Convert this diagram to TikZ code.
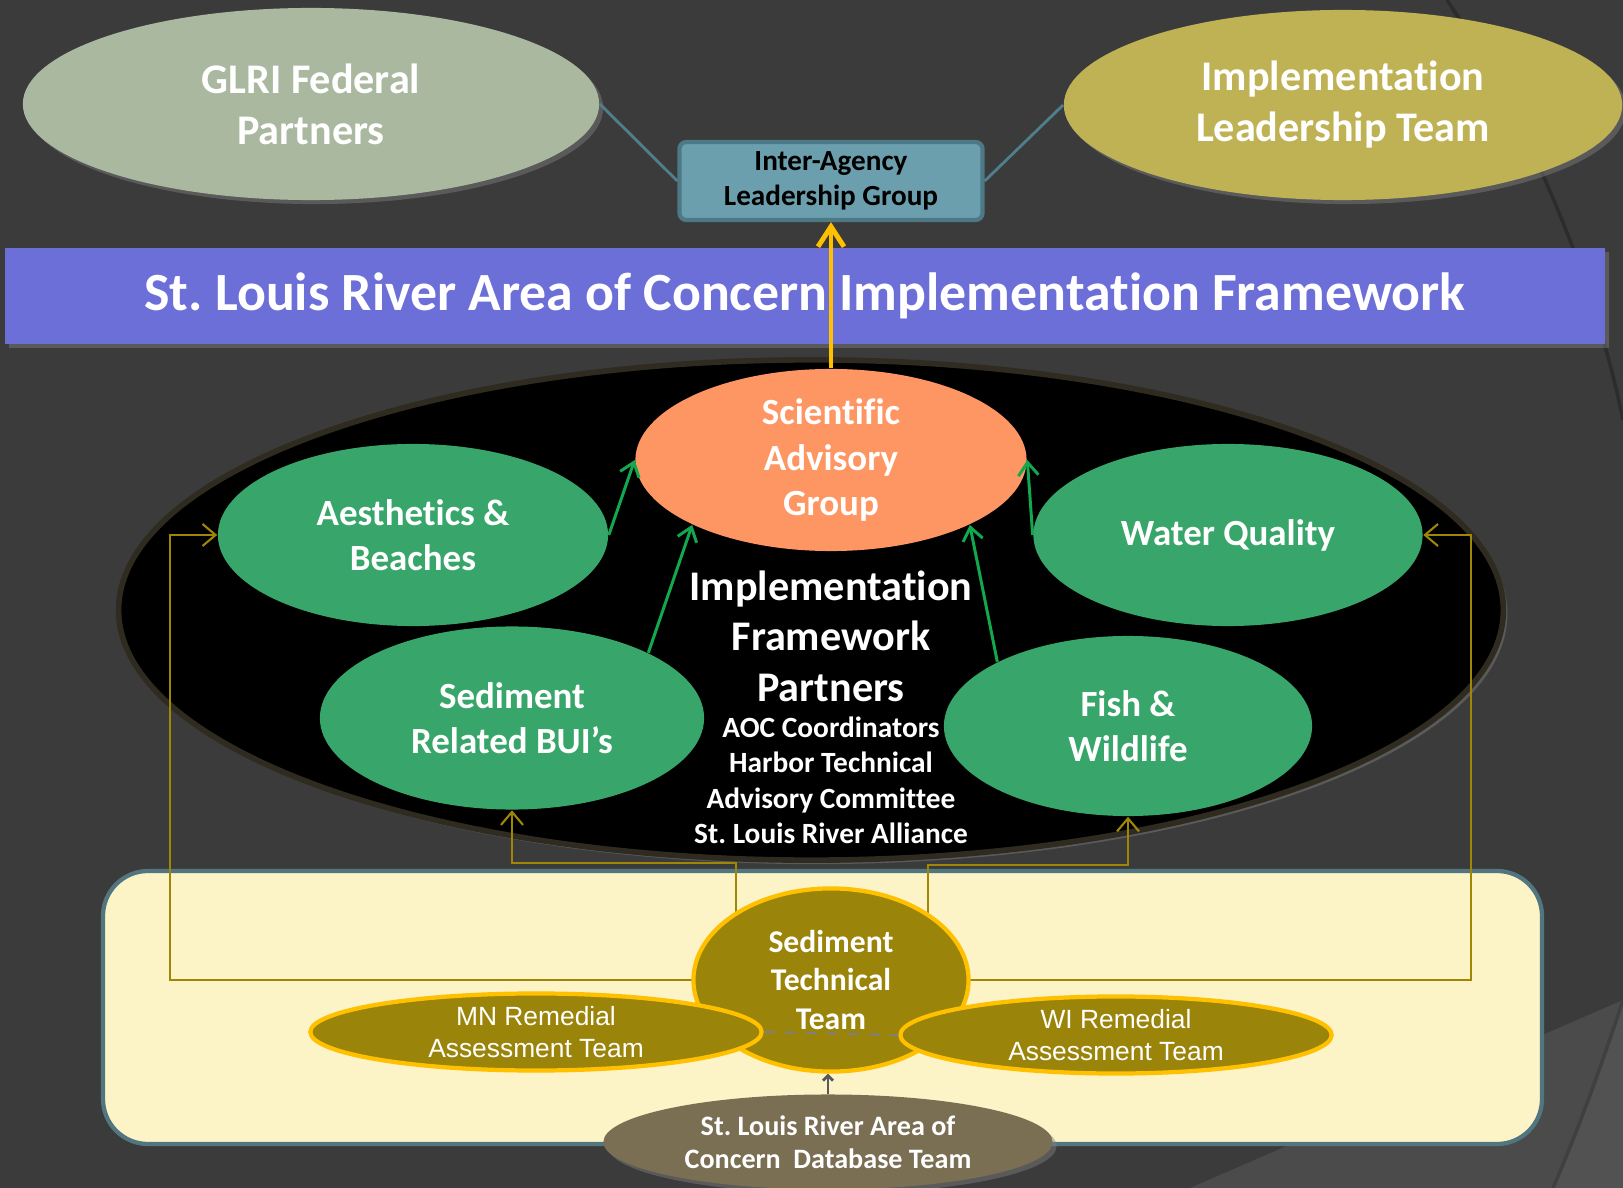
\documentclass[tikz,border=0pt]{standalone}
\usepackage{fontspec}
\setmainfont{Carlito}[RawFeature={-liga;-clig;-dlig;-calt}]
\newfontfamily\arialfont{Liberation Sans}
\usepackage{tikz}
\usetikzlibrary{positioning, arrows.meta, shapes.geometric, shadows}
\frenchspacing
\definecolor{slidebg}{HTML}{3B3B3B}
\definecolor{slidepale}{HTML}{4B4B4B}
\definecolor{slidepaler}{HTML}{525252}
\definecolor{glrisage}{HTML}{A9B89F}
\definecolor{iltolive}{HTML}{BFB255}
\definecolor{ilgteal}{HTML}{6B9FAE}
\definecolor{ilgborder}{HTML}{4D7886}
\definecolor{tealline}{HTML}{4F7E8D}
\definecolor{titleblue}{HTML}{6D6FD9}
\definecolor{sagorange}{HTML}{FE9663}
\definecolor{buigreen}{HTML}{38A66A}
\definecolor{arrowgreen}{HTML}{12A84E}
\definecolor{ovalrim}{HTML}{2F2B20}
\definecolor{panelcream}{HTML}{FCF3C7}
\definecolor{panelborder}{HTML}{51767F}
\definecolor{teamolive}{HTML}{9B840A}
\definecolor{teamgold}{HTML}{FFC000}
\definecolor{feedolive}{HTML}{9F8606}
\definecolor{dbbrown}{HTML}{7A6E53}

\begin{document}
\begin{tikzpicture}[x=0.01cm, y=-0.01cm,
    every node/.style={inner sep=0pt},
    softshadow/.style={drop shadow={shadow xshift=0.04cm, shadow yshift=-0.04cm, opacity=0.45}},
    topoval/.style={ellipse, text=white, align=center, softshadow,
      font=\bfseries\fontsize{12}{14.5}\selectfont},
    buioval/.style={ellipse, fill=buigreen, text=white, align=center,
      font=\bfseries\fontsize{10.5}{12.9}\selectfont},
    teamoval/.style={ellipse, fill=teamolive, draw=teamgold, line width=1.2pt, text=white,
      align=center},
    linkline/.style={tealline, line width=0.8pt},
    uparrow/.style={arrowgreen, line width=0.85pt, -{Straight Barb[length=0.13cm, width=0.2cm]}},
    feed/.style={feedolive, line width=0.6pt, -{Straight Barb[length=0.13cm, width=0.22cm]}}]

  \useasboundingbox (0,0) rectangle (1623,1188);
  \fill[slidebg] (0,0) rectangle (1623,1188);

  % theme arcs on the right
  \draw[black!25!slidebg, line width=1pt] (1447,0) .. controls (1520,110) and (1590,260) .. (1623,420);
  \fill[slidepale] (1190,1188) -- (1623,1000) -- (1623,1188) -- cycle;
  \fill[slidepaler] (1623,1000) .. controls (1600,1070) and (1578,1130) .. (1553,1188) -- (1623,1188) -- cycle;
  \draw[black!15!slidepale, line width=1pt] (1623,1000) .. controls (1600,1070) and (1578,1130) .. (1553,1188);

  % partners at the top
  \node[topoval, fill=glrisage, minimum width=5.76cm, minimum height=1.92cm] (glri) at (311,104)
    {GLRI Federal\\Partners};
  \node[topoval, fill=iltolive, minimum width=5.58cm, minimum height=1.90cm] (ilt) at (1343,105)
    {Implementation\\Leadership Team};
  \node[rectangle, rounded corners=0.07cm, fill=ilgteal, draw=ilgborder, line width=1.2pt,
        minimum width=3.03cm, minimum height=0.78cm, align=center,
        font=\bfseries\fontsize{8.3}{10}\selectfont] (ilg) at (831,181)
    {Inter-Agency\\Leadership Group};
  \draw[linkline] (glri.east) -- (ilg.west);
  \draw[linkline] (ilg.east) -- (ilt.west);

  \node[rectangle, fill=titleblue, minimum width=15.99cm, minimum height=0.95cm, text=white,
        softshadow, font=\bfseries\fontsize{15.3}{18}\selectfont] (title) at (805,296)
    {St. Louis River Area of Concern Implementation Framework};

  % framework oval
  \node[ellipse, fill=black, draw=ovalrim, line width=1.6pt, softshadow,
        minimum width=13.84cm, minimum height=5cm] (frame) at (811,610) {};

  \node[ellipse, fill=sagorange, text=white, align=center, minimum width=3.91cm, minimum height=1.82cm,
        font=\bfseries\fontsize{10.5}{12.9}\selectfont] (sag) at (831,460)
    {Scientific\\Advisory\\Group};
  \node[buioval, minimum width=3.90cm, minimum height=1.82cm] (aesth) at (413,535) {Aesthetics \&\\Beaches};
  \node[buioval, minimum width=3.89cm, minimum height=1.82cm] (water) at (1228,535) {Water Quality};
  \node[buioval, minimum width=3.84cm, minimum height=1.83cm] (sedbui) at (512,718) {Sediment\\Related BUI’s};
  \node[buioval, minimum width=3.68cm, minimum height=1.80cm] (fish) at (1128,726) {Fish \&\\Wildlife};

  \node[text=white, align=center, font=\bfseries\fontsize{12}{14.4}\selectfont] (pfhead) at (831,636)
    {Implementation\\Framework\\Partners};
  \node[text=white, align=center, font=\bfseries\fontsize{8.35}{10}\selectfont, below=4pt of pfhead] (pfmembers)
    {AOC Coordinators\\Harbor Technical\\Advisory Committee\\St. Louis River Alliance};

  \draw[uparrow] (aesth.east) -- (sag.west);
  \draw[uparrow] (sedbui.north east) -- (sag.south west);
  \draw[uparrow] (fish.north west) -- (sag.south east);
  \draw[uparrow] (water.west) -- (sag.east);

  \draw[teamgold, line width=1.4pt, -{Straight Barb[length=0.2cm, width=0.26cm]}] (sag.north) -- (ilg.south);

  % sediment team panel
  \draw[fill=panelcream, draw=panelborder, line width=1.2pt, rounded corners=0.45cm]
    (103,871) rectangle (1542,1144);

  \draw[feed] (831,980) ++(-137,0) -| ([xshift=-0.47cm]aesth.west) -- (aesth.west);
  \draw[feed] (831,980) ++(138,0) -| ([xshift=0.48cm]water.east) -- (water.east);
  \draw[feed] (736,980) |- ([yshift=-0.53cm]sedbui.south) -- (sedbui.south);
  \draw[feed] (928,980) |- ([yshift=-0.48cm]fish.south) -- (fish.south);

  \node[teamoval, minimum width=2.75cm, minimum height=1.83cm,
        font=\bfseries\fontsize{9}{11}\selectfont] (stt) at (831,980) {Sediment\\Technical\\Team};

  \node[teamoval, minimum width=4.51cm, minimum height=0.77cm,
        font=\arialfont\fontsize{7.5}{8.9}\selectfont] (mnrat) at (536,1032) {MN Remedial\\Assessment Team};
  \node[teamoval, minimum width=4.31cm, minimum height=0.77cm,
        font=\arialfont\fontsize{7.5}{8.9}\selectfont] (wirat) at (1116,1035) {WI Remedial\\Assessment Team};
  \draw[gray, line width=0.6pt, dashed] (mnrat.east) -- (wirat.west);

  \node[ellipse, fill=dbbrown, text=white, align=center, softshadow, minimum width=4.49cm, minimum height=0.95cm,
        font=\bfseries\fontsize{8}{9.4}\selectfont] (dbt) at (828,1142)
    {St. Louis River Area of\\Concern\ \ Database Team};
  \draw[black!65, line width=0.8pt, -{Straight Barb[length=0.05cm, width=0.1cm]}] (dbt.north) -- (dbt.north |- stt.south);
\end{tikzpicture}
\end{document}
